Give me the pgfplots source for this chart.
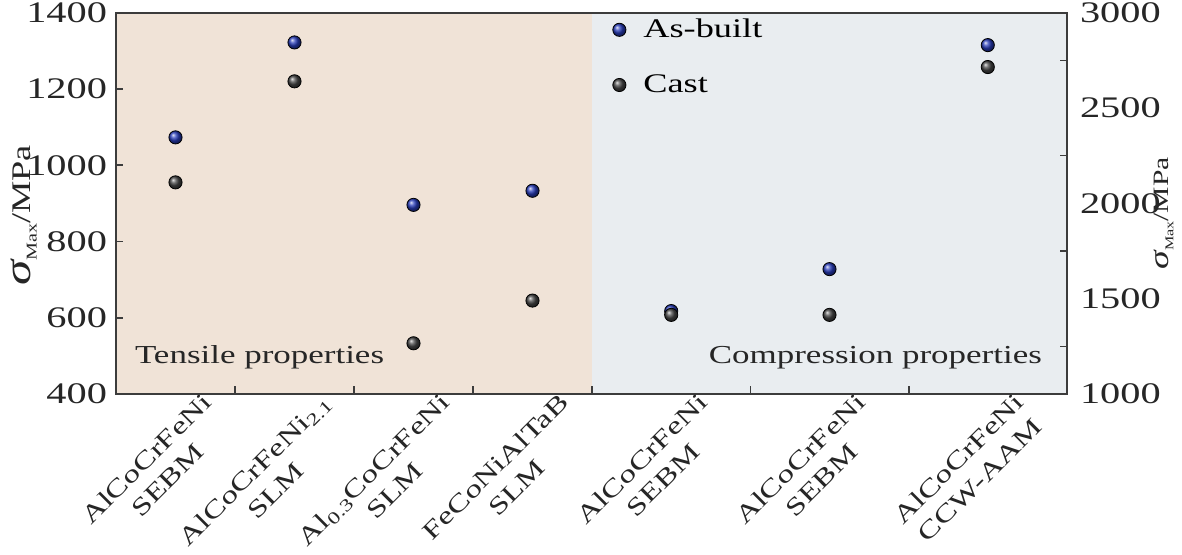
\documentclass[border=0pt]{standalone}
\usepackage{pgfplots}
\pgfplotsset{compat=1.18}
\usepackage{fontspec}
\setmainfont{Liberation Serif}[FakeStretch=1.35]
\definecolor{peach}{RGB}{240,227,215}
\definecolor{bgray}{RGB}{233,237,240}
\definecolor{asblue}{RGB}{40,60,185}
\definecolor{castgray}{RGB}{70,70,70}
\definecolor{axcol}{RGB}{60,60,60}
\begin{document}
\begin{tikzpicture}
\begin{axis}[name=ax1,
  scale only axis, width=475.5bp, height=190.65bp,
  xmin=0, xmax=951, ymin=400, ymax=1400,
  axis on top, clip=false,
  axis line style={draw=axcol, line width=1bp},
  ytick={400,600,...,1400}, ytick pos=left,
  xtick={59.5,178.5,297.5,416.5,555.2,713.5,871.8},
  xticklabels={{AlCoCrFeNi\\SEBM},{AlCoCrFeNi\textsubscript{2.1}\\SLM},{Al\textsubscript{0.3}CoCrFeNi\\SLM},{FeCoNiAlTaB\\SLM},{AlCoCrFeNi\\SEBM},{AlCoCrFeNi\\SEBM},{AlCoCrFeNi\\CCW-AAM}},
  minor xtick={119,238,357,476,634.3,792.7},
  xtick pos=bottom,
  tick align=inside, major tick length=3.5bp, minor tick length=4bp,
  major x tick style={draw=none},
  every tick/.style={axcol, line width=0.8bp},
  /pgf/number format/assume math mode=true,
  /pgf/number format/1000 sep={},
  yticklabel style={font=\fontsize{15}{15}\selectfont, text=black!85, xshift=-1bp},
  xticklabel style={rotate=45, anchor=north east, align=center, inner sep=0pt,
    font=\fontsize{12.4}{15}\selectfont, text=black!85, xshift=10bp, yshift=-8bp},
  legend style={at={(0.511,0.995)}, anchor=north west, draw=none, fill=none,
    font=\fontsize{13.5}{13.5}\selectfont, row sep=13bp, inner sep=0pt,
    nodes={xshift=5bp}},
  legend image code/.code={\draw[#1] plot coordinates {(0.3cm,0cm)}; \path[draw=none] (0cm,0cm) (0.6cm+1.5bp,0cm);},
  legend cell align=left,
]
\fill[peach] (axis cs:0,400) rectangle (axis cs:476,1400);
\fill[bgray] (axis cs:476,400) rectangle (axis cs:951,1400);
\addplot[only marks, mark=ball, ball color=asblue, mark size=3.3bp] coordinates {
  (59.5,1073) (178.5,1322) (297.5,896) (416.5,933)};
\addlegendentry{As-built}
\addplot[only marks, mark=ball, ball color=castgray, mark size=3.3bp] coordinates {
  (59.5,955) (178.5,1220) (297.5,533) (416.5,645)};
\addlegendentry{Cast}
\node[anchor=base west, font=\fontsize{13}{13}\selectfont, text=black!85] at (axis cs:12,481) {Tensile properties};
\node[anchor=base east, font=\fontsize{13}{13}\selectfont, text=black!85] at (axis cs:933,481) {Compression properties};
\end{axis}
\begin{axis}[name=ax2,
  scale only axis, width=475.5bp, height=190.65bp,
  xmin=0, xmax=951, ymin=1000, ymax=3000,
  clip=false,
  axis x line=none, axis y line*=right,
  axis line style={draw=axcol, line width=1bp},
  ytick={1000,1500,...,3000},
  minor ytick={1250,1750,2250,2750},
  tick align=inside, major tick length=0bp, minor tick length=3.5bp,
  every tick/.style={axcol, line width=0.8bp},
  /pgf/number format/assume math mode=true,
  /pgf/number format/1000 sep={},
  yticklabel style={font=\fontsize{15}{15}\selectfont, text=black!85, xshift=3bp},
]
\addplot[only marks, mark=ball, ball color=asblue, mark size=3.3bp] coordinates {
  (555.2,1435) (713.5,1655) (871.8,2830)};
\addplot[only marks, mark=ball, ball color=castgray, mark size=3.3bp] coordinates {
  (555.2,1415) (713.5,1415) (871.8,2715)};
\end{axis}
\node[rotate=90, text=black!85] at ([xshift=-46bp,yshift=-6bp]ax1.west)
  {\fontsize{19}{19}\selectfont\itshape σ\upshape\fontsize{7.5}{7.5}\selectfont\raisebox{-3bp}{Max}\fontsize{13.5}{13.5}\selectfont/MPa};
\node[rotate=90, text=black!85] at ([xshift=48.5bp,yshift=-5bp]ax1.east)
  {\fontsize{14}{14}\selectfont\itshape σ\upshape\fontsize{6}{6}\selectfont\raisebox{-2.2bp}{Max}\fontsize{11}{11}\selectfont/MPa};
\pgfresetboundingbox
\useasboundingbox ([xshift=-58bp,yshift=-80.5bp]ax1.south west) rectangle ([xshift=57.5bp,yshift=6.35bp]ax1.north east);
\end{tikzpicture}
\end{document}
